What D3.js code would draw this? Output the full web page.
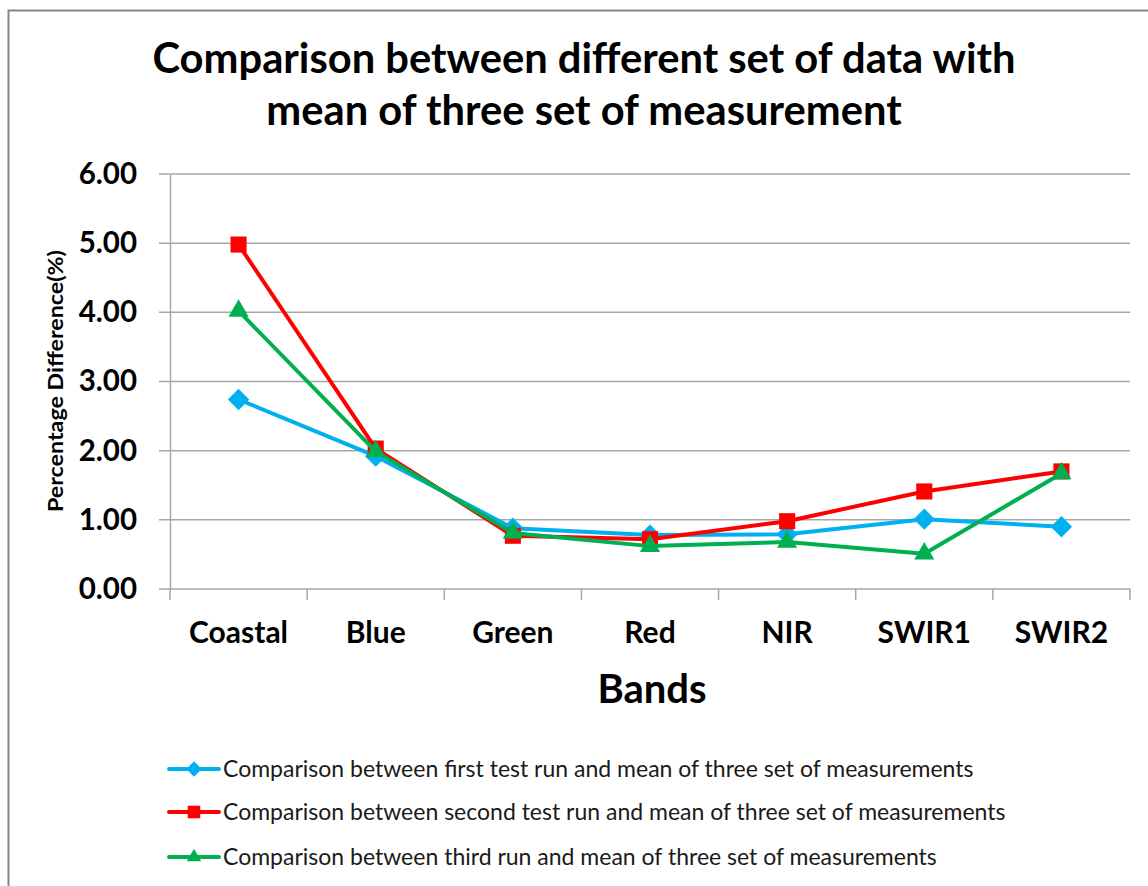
<!DOCTYPE html>
<html lang="en">
<head>
    <meta charset="UTF-8">
    <title>Percentage difference by band</title>
    <script src="https://d3js.org/d3.v7.min.js"></script>
    <style>
        body { margin: 0; background: #fff; }
        text { font-family: Lato, "Open Sans", sans-serif; }
    </style>
</head>
<body>
    <div id="chart"></div>

    <script>
        // data --------------------------------------------------------------
        const bands = ["Coastal", "Blue", "Green", "Red", "NIR", "SWIR1", "SWIR2"];
        const firstRun  = [2.74, 1.92, 0.88, 0.78, 0.79, 1.01, 0.90];
        const secondRun = [4.98, 2.03, 0.77, 0.72, 0.98, 1.41, 1.70];
        const thirdRun  = [4.02, 1.99, 0.81, 0.62, 0.68, 0.51, 1.67];
        const yTicks = [0, 1, 2, 3, 4, 5, 6];
        const seriesNames = [
            "Comparison between first test run and mean of three set of measurements",
            "Comparison between second test run and mean of three set of measurements",
            "Comparison between third run and mean of three set of measurements"
        ];

        const series = [
            {name: seriesNames[0], values: firstRun,  color: "#00B0F0", symbol: d3.symbolDiamond2},
            {name: seriesNames[1], values: secondRun, color: "#FF0000", symbol: d3.symbolSquare2},
            {name: seriesNames[2], values: thirdRun,  color: "#00B050", symbol: d3.symbolTriangle2}
        ];

        const width = 1148, height = 886;
        const svg = d3.select("#chart").append("svg")
            .attr("width", width)
            .attr("height", height);

        // outer chart border (runs off the right and bottom of the picture)
        svg.append("rect")
            .attr("x", 8.5).attr("y", 10.5)
            .attr("width", 1160).attr("height", 900)
            .attr("fill", "none")
            .attr("stroke", "#868686")
            .attr("stroke-width", 2);

        const plot = {left: 170, right: 1130, top: 174, bottom: 589};

        const xScale = d3.scaleBand().domain(bands).range([plot.left, plot.right]);
        const yScale = d3.scaleLinear().domain([0, 6]).range([plot.bottom, plot.top]);

        // title
        const title = svg.append("text")
            .attr("text-anchor", "middle")
            .attr("font-weight", "bold")
            .attr("font-size", 41.7)
            .attr("fill", "#000");
        title.append("tspan").attr("x", 584).attr("y", 73).text("Comparison between different set of data with");
        title.append("tspan").attr("x", 584).attr("y", 125).text("mean of three set of measurement");

        // gridlines
        svg.append("g")
            .selectAll("line")
            .data(yTicks)
            .join("line")
            .attr("x1", plot.left - 11)
            .attr("x2", plot.right)
            .attr("y1", d => yScale(d))
            .attr("y2", d => yScale(d))
            .attr("stroke", "#A6A6A6")
            .attr("stroke-width", 1.5);

        // y axis
        const yAxis = svg.append("g")
            .attr("transform", `translate(${plot.left},0)`)
            .call(d3.axisLeft(yScale).tickValues(yTicks).tickFormat(d3.format(".2f")).tickSize(0).tickPadding(33));
        yAxis.select(".domain").attr("stroke", "#A6A6A6").attr("stroke-width", 1.5);
        yAxis.selectAll("text")
            .attr("font-family", "Lato, sans-serif")
            .attr("font-size", 29.5)
            .attr("font-weight", "bold")
            .attr("fill", "#000");

        // x axis
        const xAxis = svg.append("g")
            .attr("transform", `translate(0,${plot.bottom})`)
            .call(d3.axisBottom(xScale).tickSize(0).tickPadding(33));
        xAxis.select(".domain").remove();
        xAxis.selectAll("text")
            .attr("font-family", "Lato, sans-serif")
            .attr("font-size", 30)
            .attr("font-weight", "bold")
            .attr("fill", "#000");

        // category boundary ticks
        const boundaries = bands.map(b => xScale(b)).concat([plot.right]);
        svg.append("g")
            .selectAll("line")
            .data(boundaries)
            .join("line")
            .attr("x1", d => d).attr("x2", d => d)
            .attr("y1", plot.bottom)
            .attr("y2", plot.bottom + 11)
            .attr("stroke", "#A6A6A6")
            .attr("stroke-width", 1.5);

        // axis titles
        svg.append("text")
            .attr("x", 652).attr("y", 703)
            .attr("text-anchor", "middle")
            .attr("font-size", 40)
            .attr("font-weight", "bold")
            .text("Bands");

        svg.append("text")
            .attr("transform", "translate(63,381) rotate(-90)")
            .attr("text-anchor", "middle")
            .attr("font-size", 21)
            .attr("font-weight", "bold")
            .attr("textLength", 262)
            .attr("lengthAdjust", "spacingAndGlyphs")
            .text("Percentage Difference(%)");

        // lines and markers
        const line = d3.line()
            .x((d, i) => xScale(bands[i]) + xScale.bandwidth() / 2)
            .y(d => yScale(d));

        series.forEach(s => {
            svg.append("path")
                .datum(s.values)
                .attr("d", line)
                .attr("fill", "none")
                .attr("stroke", s.color)
                .attr("stroke-width", 4)
                .attr("stroke-linejoin", "round");

            svg.append("g")
                .selectAll("path")
                .data(s.values)
                .join("path")
                .attr("d", d3.symbol().type(s.symbol).size(s.symbol === d3.symbolSquare2 ? 330 : 290))
                .attr("transform", (d, i) => `translate(${xScale(bands[i]) + xScale.bandwidth() / 2},${yScale(d)})`)
                .attr("fill", s.color);
        });

        // legend
        const legendY = [769, 812, 857];
        series.forEach((s, i) => {
            const g = svg.append("g").attr("transform", `translate(0,${legendY[i]})`);
            g.append("line")
                .attr("x1", 169).attr("x2", 219)
                .attr("y1", 0).attr("y2", 0)
                .attr("stroke", s.color)
                .attr("stroke-width", 4)
                .attr("stroke-linecap", "round");
            g.append("path")
                .attr("d", d3.symbol().type(s.symbol).size(s.symbol === d3.symbolSquare2 ? 200 : 150))
                .attr("transform", "translate(194,0)")
                .attr("fill", s.color);
            g.append("text")
                .attr("x", 223).attr("y", 8)
                .attr("font-size", 23)
                .attr("fill", "#1a1a1a")
                .text(s.name);
        });
    </script>
</body>
</html>
